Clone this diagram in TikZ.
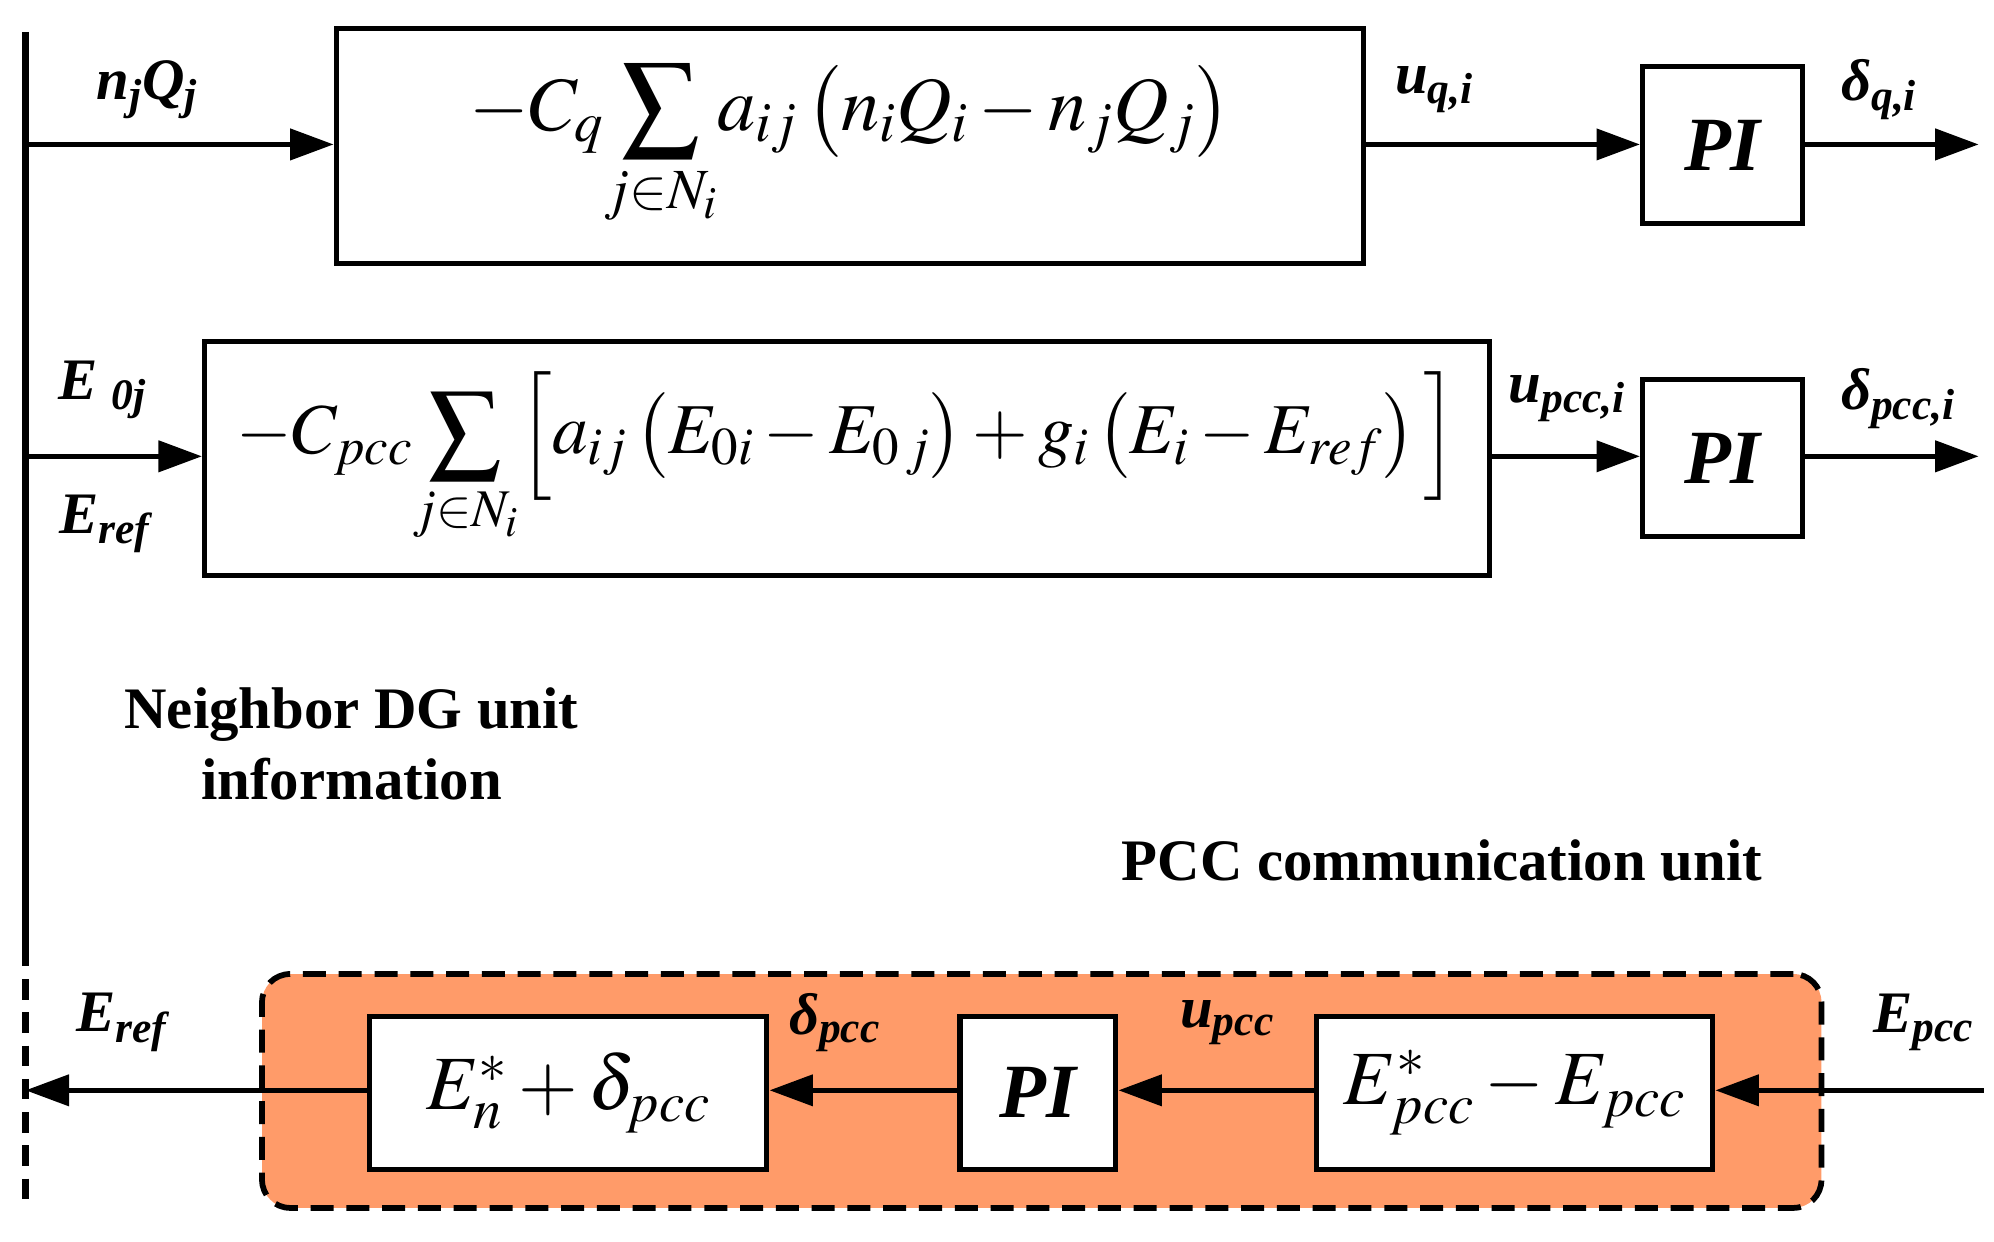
\documentclass[tikz,border=0pt]{standalone}
\usepackage{amsmath}
\usepackage{mathptmx}
\usepackage{fontspec}
\setmainfont{Liberation Serif}
\usetikzlibrary{arrows.meta}
\definecolor{pccorange}{RGB}{255,155,105}
\begin{document}
\begin{tikzpicture}[x=1pt,y=-1pt,
  blk/.style={draw,line width=4pt,fill=white,inner sep=0pt},
  arr/.style={line width=4pt,-{Triangle[length=34pt,width=24pt]}},
  lbl/.style={font=\fontsize{46}{52}\selectfont\bfseries\itshape},
  big/.style={font=\fontsize{60}{70}\selectfont},
  mid/.style={font=\fontsize{56}{66}\selectfont},
  ttl/.style={font=\fontsize{46}{56}\selectfont\bfseries,align=center}]
\useasboundingbox (0,0) rectangle (1560,971);
% bus
\coordinate (bt) at (20,25);
\coordinate (bm) at (20,740);
\coordinate (bb) at (20,945);
\draw[line width=6pt] (bt) -- (bm);
\draw[line width=6pt,dash pattern=on 16pt off 10pt] (bm) -- (bb);
% row 1
\node[blk,minimum width=804pt,minimum height=184pt,big] (b1) at (665,114) {$\displaystyle -C_q\!\sum_{j\in N_i}\! a_{ij}\left(n_iQ_i-n_jQ_j\right)$};
\node[blk,minimum width=125pt,minimum height=123pt,big] (pi1) at (1347.5,113.5) {\bfseries\itshape PI};
\coordinate (i1) at (20,113);
\coordinate (o1) at (1548,113);
\draw[arr] (i1) -- (b1.west|-i1);
\draw[arr] (b1.east|-i1) -- (pi1.west|-i1);
\draw[arr] (pi1.east|-i1) -- (o1);
\node[lbl] (l1) at (115,70) {n\textsubscript{j}Q\textsubscript{j}};
\node[lbl] (l2) at (1122,70) {u\textsubscript{q,i}};
\node[lbl] (l3) at (1470,70) {δ\textsubscript{q,i}};
% row 2
\node[blk,minimum width=1005pt,minimum height=183pt,mid] (b2) at (662.5,358.5) {$\displaystyle -C_{pcc}\!\sum_{j\in N_i}\!\Big[a_{ij}\left(E_{0i}-E_{0\,j}\right)+g_i\left(E_i-E_{ref}\right)\Big]$};
\node[blk,minimum width=125pt,minimum height=123pt,big] (pi2) at (1347.5,358.5) {\bfseries\itshape PI};
\coordinate (i2) at (20,357);
\coordinate (o2) at (1548,357);
\draw[arr] (i2) -- (b2.west|-i2);
\draw[arr] (b2.east|-i2) -- (pi2.west|-i2);
\draw[arr] (pi2.east|-i2) -- (o2);
\node[lbl] (l4) at (80,305) {E \textsubscript{0j}};
\node[lbl] (l5) at (82,410) {E\textsubscript{ref}};
\node[lbl] (l6) at (1226,312) {u\textsubscript{pcc,i}};
\node[lbl] (l7) at (1485,312) {δ\textsubscript{pcc,i}};
% texts
\node[ttl] (t1) at (275,582) {Neighbor DG unit\\information};
\node[ttl] (t2) at (1128,673) {PCC communication unit};
% pcc unit
\node[draw,line width=4.5pt,dash pattern=on 18pt off 10pt,fill=pccorange,rounded corners=22pt,minimum width=1220pt,minimum height=183pt] (pcc) at (815,853.5) {};
\node[blk,minimum width=311pt,minimum height=120pt,big] (c1) at (444.5,855) {$E_n^*+\delta_{pcc}$};
\node[blk,minimum width=122pt,minimum height=120pt,big] (c2) at (812,855) {\bfseries\itshape PI};
\node[blk,minimum width=310pt,minimum height=120pt,big] (c3) at (1185,855) {$E_{pcc}^*-E_{pcc}$};
\coordinate (ein) at (1552,853);
\coordinate (eout) at (20,853);
\draw[arr] (ein) -- (c3.east|-ein);
\draw[arr] (c3.west|-ein) -- (c2.east|-ein);
\draw[arr] (c2.west|-ein) -- (c1.east|-ein);
\draw[arr] (c1.west|-ein) -- (eout);
\node[lbl] (l8) at (95,800) {E\textsubscript{ref}};
\node[lbl] (l9) at (653,800) {δ\textsubscript{pcc}};
\node[lbl] (l10) at (960,800) {u\textsubscript{pcc}};
\node[lbl] (l11) at (1505,800) {E\textsubscript{pcc}};
\end{tikzpicture}
\end{document}
